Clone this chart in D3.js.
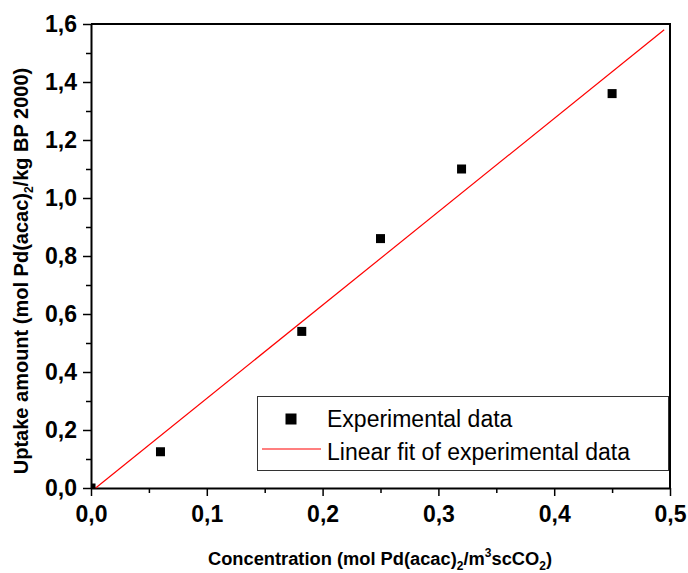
<!DOCTYPE html>
<html>
<head>
<meta charset="utf-8">
<script src="https://cdn.jsdelivr.net/npm/d3@7"></script>
<style>
  body { margin: 0; background: #fff; }
  svg { display: block; }
  text { font-family: "Liberation Sans", Arial, sans-serif; }
</style>
</head>
<body>
<svg id="chart" width="688" height="573"></svg>
<script>
// data
var concentration = [0.0, 0.06, 0.182, 0.25, 0.32, 0.45];
var uptake = [0.0, 0.125, 0.54, 0.86, 1.10, 1.36];
// linear fit end points
var fitX = [0.004, 0.495];
var fitY = [0.0, 1.58];
var xMajor = [0, 0.1, 0.2, 0.3, 0.4, 0.5];
var xMinor = [0.05, 0.15, 0.25, 0.35, 0.45];
var yMajor = [0, 0.2, 0.4, 0.6, 0.8, 1.0, 1.2, 1.4, 1.6];
var yMinor = [0.1, 0.3, 0.5, 0.7, 0.9, 1.1, 1.3, 1.5];
var legendLabels = ["Experimental data", "Linear fit of experimental data"];

var svg = d3.select("#chart");
var pLeft = 91, pRight = 670, pTop = 24, pBottom = 488;

var x = d3.scaleLinear().domain([0, 0.5]).range([pLeft, pRight]);
var y = d3.scaleLinear().domain([0, 1.6]).range([pBottom, pTop]);

var fmt = function(d) { return d3.format(".1f")(d).replace(".", ","); };

// clip for the markers
svg.append("clipPath").attr("id", "plotclip")
    .append("rect").attr("x", pLeft).attr("y", pTop)
    .attr("width", pRight - pLeft).attr("height", pBottom - pTop);

// frame (top and right)
svg.append("path")
    .attr("d", "M" + pLeft + "," + pTop + "H" + pRight + "V" + pBottom)
    .attr("fill", "none").attr("stroke", "#000").attr("stroke-width", 2);

// minor ticks
svg.append("g").attr("transform", "translate(0," + pBottom + ")")
    .call(d3.axisBottom(x).tickValues(xMinor).tickSize(5).tickFormat(""))
    .call(function(g) { g.select(".domain").remove(); })
    .selectAll("line").attr("stroke-width", 1.5);
svg.append("g").attr("transform", "translate(" + pLeft + ",0)")
    .call(d3.axisLeft(y).tickValues(yMinor).tickSize(5).tickFormat(""))
    .call(function(g) { g.select(".domain").remove(); })
    .selectAll("line").attr("stroke-width", 1.5);

// major axes
var xAxis = svg.append("g").attr("transform", "translate(0," + pBottom + ")")
    .call(d3.axisBottom(x).tickValues(xMajor).tickSize(8).tickSizeOuter(0).tickPadding(10).tickFormat(fmt));
var yAxis = svg.append("g").attr("transform", "translate(" + pLeft + ",0)")
    .call(d3.axisLeft(y).tickValues(yMajor).tickSize(8).tickSizeOuter(0).tickPadding(6).tickFormat(fmt));

[xAxis, yAxis].forEach(function(g) {
    g.select(".domain").attr("stroke-width", 2);
    g.selectAll(".tick line").attr("stroke-width", 1.5);
    g.selectAll(".tick text")
        .attr("font-family", "'Liberation Sans', Arial, sans-serif")
        .attr("font-size", 23).attr("font-weight", "bold").attr("fill", "#000");
});

// fit line
svg.append("line")
    .attr("x1", x(fitX[0])).attr("y1", y(fitY[0]))
    .attr("x2", x(fitX[1])).attr("y2", y(fitY[1]))
    .attr("stroke", "#ff0000").attr("stroke-width", 1.2);

// data points
svg.append("g").attr("clip-path", "url(#plotclip)")
    .selectAll("rect").data(concentration).join("rect")
    .attr("x", function(d) { return x(d) - 4.5; })
    .attr("y", function(d, i) { return y(uptake[i]) - 4.5; })
    .attr("width", 9).attr("height", 9).attr("fill", "#000");

// legend
var lg = svg.append("g");
lg.append("rect").attr("x", 257.5).attr("y", 396.5).attr("width", 411).attr("height", 74)
    .attr("fill", "#fff").attr("stroke", "#333").attr("stroke-width", 1);
lg.append("rect").attr("x", 285.5).attr("y", 413.5).attr("width", 11).attr("height", 11).attr("fill", "#000");
lg.append("line").attr("x1", 262).attr("x2", 321).attr("y1", 449).attr("y2", 449)
    .attr("stroke", "#ff0000").attr("stroke-width", 1.2);
lg.selectAll("text").data(legendLabels).join("text")
    .attr("x", 327).attr("y", function(d, i) { return 427 + i * 33; })
    .attr("font-size", 23).attr("fill", "#000")
    .text(function(d) { return d; });

// axis titles
var xt = svg.append("text").attr("x", 380).attr("y", 565).attr("text-anchor", "middle")
    .attr("font-size", 18.3).attr("font-weight", "bold");
xt.append("tspan").text("Concentration (mol Pd(acac)");
xt.append("tspan").attr("font-size", 12).attr("dy", 5).text("2");
xt.append("tspan").attr("dy", -5).text("/m");
xt.append("tspan").attr("font-size", 12).attr("dy", -8).text("3");
xt.append("tspan").attr("dy", 8).text("scCO");
xt.append("tspan").attr("font-size", 12).attr("dy", 5).text("2");
xt.append("tspan").attr("dy", -5).text(")");

var yt = svg.append("text").attr("transform", "translate(28,271) rotate(-90)")
    .attr("text-anchor", "middle").attr("font-size", 20).attr("font-weight", "bold");
yt.append("tspan").text("Uptake amount (mol Pd(acac)");
yt.append("tspan").attr("font-size", 12).attr("dy", 5).text("2");
yt.append("tspan").attr("dy", -5).text("/kg BP 2000)");
</script>
</body>
</html>
